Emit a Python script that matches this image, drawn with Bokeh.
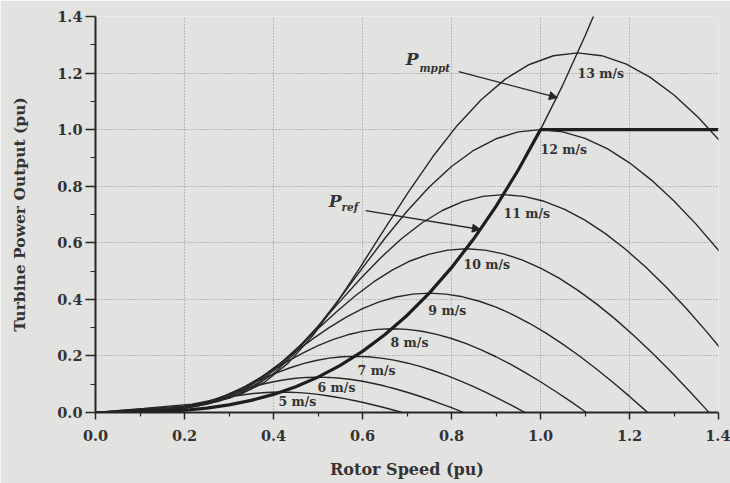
from bokeh.plotting import figure
from bokeh.models import Range1d, FixedTicker, Label, Arrow, NormalHead
from bokeh.core.properties import value
from bokeh.embed import file_html
from bokeh.resources import INLINE

# ---------------- data ----------------
speeds = [5, 6, 7, 8, 9, 10, 11, 12, 13]
speed_labels = ["5 m/s", "6 m/s", "7 m/s", "8 m/s", "9 m/s", "10 m/s", "11 m/s", "12 m/s", "13 m/s"]

w5 = [0, 0.0417, 0.0833, 0.125, 0.1458, 0.1667, 0.1875, 0.2083, 0.2292, 0.25, 0.2708, 0.2917, 0.3125, 0.3333, 0.3542, 0.375, 0.3958, 0.4167, 0.4375, 0.4583, 0.4792, 0.5, 0.5208, 0.5417, 0.5625, 0.5833, 0.6042, 0.625, 0.6458, 0.6667, 0.6875, 0.6894]
p5 = [0, 0.0008, 0.0017, 0.0036, 0.0060, 0.0100, 0.0154, 0.0220, 0.0293, 0.0370, 0.0445, 0.0515, 0.0577, 0.0629, 0.0671, 0.0700, 0.0718, 0.0723, 0.0718, 0.0701, 0.0675, 0.0639, 0.0594, 0.0541, 0.0481, 0.0415, 0.0343, 0.0265, 0.0184, 0.0098, 0.0008, 0]

w6 = [0, 0.05, 0.1, 0.15, 0.175, 0.2, 0.225, 0.25, 0.275, 0.3, 0.325, 0.35, 0.375, 0.4, 0.425, 0.45, 0.475, 0.5, 0.525, 0.55, 0.575, 0.6, 0.625, 0.65, 0.675, 0.7, 0.725, 0.75, 0.775, 0.8, 0.825, 0.8273]
p6 = [0, 0.0014, 0.0029, 0.0062, 0.0105, 0.0173, 0.0266, 0.0380, 0.0507, 0.0639, 0.0769, 0.0890, 0.0997, 0.1087, 0.1159, 0.1210, 0.1240, 0.1250, 0.1240, 0.1212, 0.1166, 0.1103, 0.1026, 0.0935, 0.0831, 0.0717, 0.0592, 0.0459, 0.0317, 0.0169, 0.0014, 0]

w7 = [0, 0.0583, 0.1167, 0.175, 0.2042, 0.2333, 0.2625, 0.2917, 0.3208, 0.35, 0.3792, 0.4083, 0.4375, 0.4667, 0.4958, 0.525, 0.5542, 0.5833, 0.6125, 0.6417, 0.6708, 0.7, 0.7292, 0.7583, 0.7875, 0.8167, 0.8458, 0.875, 0.9042, 0.9333, 0.9625, 0.9651]
p7 = [0, 0.0023, 0.0046, 0.0099, 0.0166, 0.0274, 0.0422, 0.0603, 0.0805, 0.1015, 0.1221, 0.1413, 0.1583, 0.1727, 0.1840, 0.1921, 0.1969, 0.1985, 0.1969, 0.1924, 0.1851, 0.1752, 0.1629, 0.1485, 0.1320, 0.1138, 0.0940, 0.0728, 0.0503, 0.0268, 0.0023, 0]

w8 = [0, 0.0667, 0.1333, 0.2, 0.2333, 0.2667, 0.3, 0.3333, 0.3667, 0.4, 0.4333, 0.4667, 0.5, 0.5333, 0.5667, 0.6, 0.6333, 0.6667, 0.7, 0.7333, 0.7667, 0.8, 0.8333, 0.8667, 0.9, 0.9333, 0.9667, 1.0, 1.0333, 1.0667, 1.1, 1.103]
p8 = [0, 0.0034, 0.0069, 0.0148, 0.0248, 0.0409, 0.0630, 0.0900, 0.1202, 0.1515, 0.1823, 0.2109, 0.2363, 0.2577, 0.2747, 0.2867, 0.2939, 0.2963, 0.2940, 0.2872, 0.2763, 0.2615, 0.2432, 0.2216, 0.1971, 0.1699, 0.1403, 0.1087, 0.0751, 0.0400, 0.0034, 0]

w9 = [0, 0.075, 0.15, 0.225, 0.2625, 0.3, 0.3375, 0.375, 0.4125, 0.45, 0.4875, 0.525, 0.5625, 0.6, 0.6375, 0.675, 0.7125, 0.75, 0.7875, 0.825, 0.8625, 0.9, 0.9375, 0.975, 1.0125, 1.05, 1.0875, 1.125, 1.1625, 1.2, 1.2375, 1.2409]
p9 = [0, 0.0049, 0.0098, 0.0210, 0.0353, 0.0582, 0.0897, 0.1282, 0.1711, 0.2157, 0.2595, 0.3003, 0.3365, 0.3670, 0.3911, 0.4083, 0.4185, 0.4219, 0.4185, 0.4090, 0.3934, 0.3724, 0.3463, 0.3155, 0.2806, 0.2419, 0.1998, 0.1547, 0.1070, 0.0569, 0.0049, 0]

w10 = [0, 0.0833, 0.1667, 0.25, 0.2917, 0.3333, 0.375, 0.4167, 0.4583, 0.5, 0.5417, 0.5833, 0.625, 0.6667, 0.7083, 0.75, 0.7917, 0.8333, 0.875, 0.9167, 0.9583, 1.0, 1.0417, 1.0833, 1.125, 1.1667, 1.2083, 1.25, 1.2917, 1.3333, 1.375, 1.3788]
p10 = [0, 0.0067, 0.0135, 0.0288, 0.0484, 0.0799, 0.1231, 0.1759, 0.2347, 0.2959, 0.3560, 0.4119, 0.4615, 0.5034, 0.5365, 0.5600, 0.5741, 0.5787, 0.5741, 0.5610, 0.5397, 0.5108, 0.4750, 0.4328, 0.3849, 0.3318, 0.2741, 0.2123, 0.1468, 0.0781, 0.0067, 0]

w11 = [0, 0.0917, 0.1833, 0.275, 0.3208, 0.3667, 0.4125, 0.4583, 0.5042, 0.55, 0.5958, 0.6417, 0.6875, 0.7333, 0.7792, 0.825, 0.8708, 0.9167, 0.9625, 1.0083, 1.0542, 1.1, 1.1458, 1.1917, 1.2375, 1.2833, 1.3292, 1.375, 1.4208]
p11 = [0, 0.0089, 0.0180, 0.0384, 0.0644, 0.1063, 0.1638, 0.2341, 0.3124, 0.3938, 0.4738, 0.5482, 0.6143, 0.6700, 0.7141, 0.7454, 0.7641, 0.7703, 0.7642, 0.7467, 0.7183, 0.6799, 0.6322, 0.5761, 0.5123, 0.4416, 0.3648, 0.2825, 0.1953]

w12 = [0, 0.1, 0.2, 0.3, 0.35, 0.4, 0.45, 0.5, 0.55, 0.6, 0.65, 0.7, 0.75, 0.8, 0.85, 0.9, 0.95, 1.0, 1.05, 1.1, 1.15, 1.2, 1.25, 1.3, 1.35, 1.4, 1.45]
p12 = [0, 0.0115, 0.0233, 0.0498, 0.0836, 0.1380, 0.2127, 0.3039, 0.4056, 0.5113, 0.6151, 0.7117, 0.7975, 0.8698, 0.9271, 0.9677, 0.9920, 1.0, 0.9921, 0.9694, 0.9326, 0.8827, 0.8208, 0.7479, 0.6651, 0.5733, 0.4736]

w13 = [0, 0.1083, 0.2167, 0.325, 0.3792, 0.4333, 0.4875, 0.5417, 0.5958, 0.65, 0.7042, 0.7583, 0.8125, 0.8667, 0.9208, 0.975, 1.0292, 1.0833, 1.1375, 1.1917, 1.2458, 1.3, 1.3542, 1.4083]
p13 = [0, 0.0146, 0.0296, 0.0633, 0.1063, 0.1755, 0.2704, 0.3864, 0.5157, 0.6501, 0.7821, 0.9049, 1.0140, 1.1059, 1.1787, 1.2304, 1.2612, 1.2714, 1.2614, 1.2325, 1.1857, 1.1223, 1.0436, 0.9509]

# maximum power point tracking curve (thin, runs past 1.0 pu)
w_mppt = [0, 0.05, 0.1, 0.15, 0.2, 0.25, 0.3, 0.35, 0.4, 0.45, 0.5, 0.55, 0.6, 0.65, 0.7, 0.75, 0.8, 0.85, 0.9, 0.95, 1.0, 1.05, 1.1, 1.12]
p_mppt = [0, 0.0001, 0.001, 0.0034, 0.008, 0.0156, 0.027, 0.0429, 0.064, 0.0911, 0.125, 0.1664, 0.216, 0.2746, 0.343, 0.4219, 0.512, 0.6141, 0.729, 0.8574, 1.0, 1.1576, 1.331, 1.4049]

# power reference (bold): follows MPPT up to 1.0 pu, then limited at 1.0 pu
w_ref = [0, 0.05, 0.1, 0.15, 0.2, 0.25, 0.3, 0.35, 0.4, 0.45, 0.5, 0.55, 0.6, 0.65, 0.7, 0.75, 0.8, 0.85, 0.9, 0.95, 1.0, 1.4]
p_ref = [0, 0.0001, 0.001, 0.0034, 0.008, 0.0156, 0.027, 0.0429, 0.064, 0.0911, 0.125, 0.1664, 0.216, 0.2746, 0.343, 0.4219, 0.512, 0.6141, 0.729, 0.8574, 1.0, 1.0]

ticks = [0.0, 0.2, 0.4, 0.6, 0.8, 1.0, 1.2, 1.4]
tick_labels = ["0.0", "0.2", "0.4", "0.6", "0.8", "1.0", "1.2", "1.4"]
minor = [0.1, 0.3, 0.5, 0.7, 0.9, 1.1, 1.3]

# label placement (annotation positions)
lab_x = [0.411, 0.499, 0.589, 0.663, 0.748, 0.827, 0.917, 1.0, 1.083]
lab_y = [0.039, 0.088, 0.148, 0.247, 0.36, 0.523, 0.703, 0.929, 1.198]

# ---------------- styling ----------------
BG = "#e2e2e0"
INK = "#262626"
TXT = "#333333"
FONT = "DejaVu Serif"

p = figure(width=730, height=483, x_range=Range1d(0, 1.4), y_range=Range1d(0, 1.4),
           output_backend="svg", toolbar_location=None,
           min_border_left=95, min_border_right=12, min_border_top=16, min_border_bottom=71,
           background_fill_color=BG, border_fill_color=BG, outline_line_color=None)

ticker = FixedTicker(ticks=ticks, minor_ticks=minor)
overrides = {t: l for t, l in zip(ticks, tick_labels)}
for ax in (p.xaxis[0], p.yaxis[0]):
    ax.ticker = ticker
    ax.major_label_overrides = overrides
    ax.axis_line_width = 2
    ax.axis_line_color = INK
    ax.major_tick_line_color = INK
    ax.minor_tick_line_color = INK
    ax.major_tick_line_width = 1.5
    ax.minor_tick_line_width = 1.2
    ax.major_tick_in = 0
    ax.minor_tick_in = 0
    ax.major_label_text_font = FONT
    ax.major_label_text_font_style = "bold"
    ax.major_label_text_font_size = "14.5px"
    ax.major_label_text_color = TXT
    ax.axis_label_text_font = FONT
    ax.axis_label_text_font_style = "bold"
    ax.axis_label_text_color = TXT

p.xaxis.major_tick_out = 7
p.xaxis.minor_tick_out = 4
p.yaxis.major_tick_out = 10
p.yaxis.minor_tick_out = 5
p.xaxis.major_label_standoff = 10
p.yaxis.major_label_standoff = 3
p.xaxis.axis_label = "Rotor Speed (pu)"
p.yaxis.axis_label = "Turbine Power Output (pu)"
p.xaxis.axis_label_text_font_size = "16px"
p.yaxis.axis_label_text_font_size = "15.5px"
p.xaxis.axis_label_standoff = 16
p.yaxis.axis_label_standoff = 25

for g in (p.xgrid[0], p.ygrid[0]):
    g.ticker = ticker
    g.grid_line_color = "#8c8c8c"
    g.grid_line_dash = "1 2"
    g.grid_line_width = 1

# ---------------- curves ----------------
curves = [(w5, p5), (w6, p6), (w7, p7), (w8, p8), (w9, p9), (w10, p10), (w11, p11), (w12, p12), (w13, p13)]
for w, pw in curves:
    p.line(w, pw, line_color=INK, line_width=1.4)

p.line(w_mppt, p_mppt, line_color=INK, line_width=1.4)
p.line(w_ref, p_ref, line_color="#1e1e1e", line_width=3.2)

p.text(x=lab_x, y=lab_y, text=speed_labels, text_font=value(FONT), text_font_style="bold",
       text_font_size="12.5px", text_color=TXT, text_align="left", text_baseline="middle")

# P_mppt / P_ref annotations
def add_label(x, y, txt, size, style):
    p.add_layout(Label(x=x, y=y, text=txt, text_font=FONT, text_font_style=style,
                       text_font_size=size, text_color=TXT, text_baseline="alphabetic",
                       text_align="left"))

add_label(0.697, 1.25, "P", "17px", "bold italic")
add_label(0.728, 1.218, "mppt", "10.5px", "bold italic")
add_label(0.524, 0.747, "P", "17px", "bold italic")
add_label(0.553, 0.726, "ref", "10.5px", "bold italic")

for (x0, y0, x1, y1) in [(0.816, 1.205, 1.038, 1.113), (0.607, 0.714, 0.865, 0.647)]:
    p.add_layout(Arrow(x_start=x0, y_start=y0, x_end=x1, y_end=y1, line_color=INK, line_width=1.3,
                       end=NormalHead(size=8, fill_color=INK, line_color=INK, line_width=1)))

open("out.html", "w").write(file_html(p, INLINE))
